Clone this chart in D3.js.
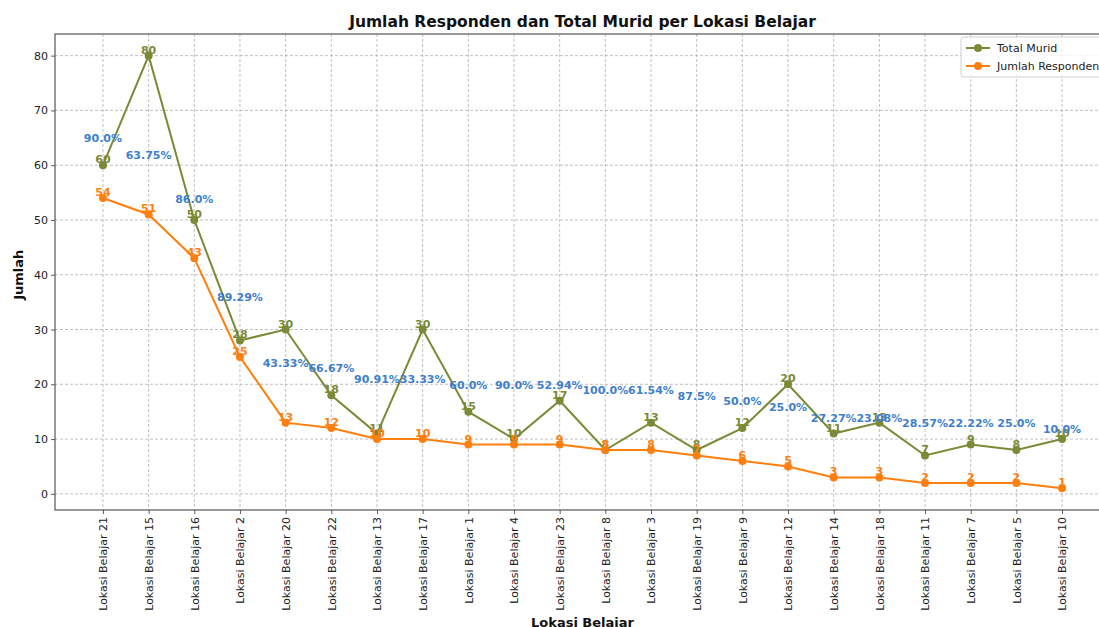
<!DOCTYPE html>
<html>
<head>
<meta charset="utf-8">
<script src="https://cdn.jsdelivr.net/npm/d3@7"></script>
<style>
  body { margin: 0; background: #fff; }
  text { font-family: "DejaVu Sans", sans-serif; }
</style>
</head>
<body>
<div class="graph"></div>
<script>
// data
var lokasi = ["Lokasi Belajar 21", "Lokasi Belajar 15", "Lokasi Belajar 16", "Lokasi Belajar 2",
    "Lokasi Belajar 20", "Lokasi Belajar 22", "Lokasi Belajar 13", "Lokasi Belajar 17",
    "Lokasi Belajar 1", "Lokasi Belajar 4", "Lokasi Belajar 23", "Lokasi Belajar 8",
    "Lokasi Belajar 3", "Lokasi Belajar 19", "Lokasi Belajar 9", "Lokasi Belajar 12",
    "Lokasi Belajar 14", "Lokasi Belajar 18", "Lokasi Belajar 11", "Lokasi Belajar 7",
    "Lokasi Belajar 5", "Lokasi Belajar 10"];
var totalMurid = [60, 80, 50, 28, 30, 18, 11, 30, 15, 10, 17, 8, 13, 8, 12, 20, 11, 13, 7, 9, 8, 10];
var jumlahResponden = [54, 51, 43, 25, 13, 12, 10, 10, 9, 9, 9, 8, 8, 7, 6, 5, 3, 3, 2, 2, 2, 1];
var persen = ["90.0%", "63.75%", "86.0%", "89.29%", "43.33%", "66.67%", "90.91%", "33.33%",
    "60.0%", "90.0%", "52.94%", "100.0%", "61.54%", "87.5%", "50.0%", "25.0%", "27.27%",
    "23.08%", "28.57%", "22.22%", "25.0%", "10.0%"];
var yTicks = [0, 10, 20, 30, 40, 50, 60, 70, 80];

var olive = "#7b8a36", orange = "#ff7f0e", blue = "#3f7fcb";

var margin = {top: 34, right: -11, bottom: 117, left: 55},
    W = 1099, H = 627,
    width = W - margin.left - margin.right,
    height = H - margin.top - margin.bottom;

var svg = d3.select(".graph").append("svg")
    .attr("width", W)
    .attr("height", H)
    .append("g")
    .attr("transform", "translate(" + margin.left + "," + margin.top + ")");

var x = d3.scalePoint().domain(lokasi).range([0, width]).padding(1.05);
var y = d3.scaleLinear().domain([-2.95, 83.95]).range([height, 0]);

// gridlines
svg.append("g")
    .selectAll("line.gx")
    .data(lokasi)
    .enter().append("line")
    .attr("x1", function(d) { return x(d); })
    .attr("x2", function(d) { return x(d); })
    .attr("y1", 0).attr("y2", height)
    .attr("stroke", "#b0b0b0").attr("stroke-width", 0.8)
    .attr("stroke-dasharray", "3,2");
svg.append("g")
    .selectAll("line.gy")
    .data(yTicks)
    .enter().append("line")
    .attr("y1", function(d) { return y(d); })
    .attr("y2", function(d) { return y(d); })
    .attr("x1", 0).attr("x2", width)
    .attr("stroke", "#b0b0b0").attr("stroke-width", 0.8)
    .attr("stroke-dasharray", "3,2");

// axes
var xAxis = svg.append("g")
    .attr("transform", "translate(0," + height + ")")
    .call(d3.axisBottom(x).tickSize(4).tickSizeOuter(0));
xAxis.selectAll("text")
    .attr("transform", "rotate(-90)")
    .attr("text-anchor", "end")
    .attr("x", -7).attr("y", 0).attr("dy", "0.35em")
    .style("font-size", "11px").style("font-family", "DejaVu Sans").attr("fill", "#222");

var yAxis = svg.append("g")
    .call(d3.axisLeft(y).tickValues(yTicks).tickSize(4).tickSizeOuter(0));
yAxis.selectAll("text")
    .attr("x", -7)
    .style("font-size", "11px").style("font-family", "DejaVu Sans").attr("fill", "#222");

[xAxis, yAxis].forEach(function(a) {
    a.select(".domain").remove();
    a.selectAll(".tick line").attr("stroke", "#333").attr("stroke-width", 0.8);
});

// frame
svg.append("rect")
    .attr("x", 0).attr("y", 0).attr("width", width).attr("height", height)
    .attr("fill", "none").attr("stroke", "#555").attr("stroke-width", 1.2);

// lines
var line = d3.line()
    .x(function(d, i) { return x(lokasi[i]); })
    .y(function(d) { return y(d); });

function drawSeries(values, color) {
    svg.append("path")
        .datum(values)
        .attr("d", line)
        .attr("fill", "none")
        .attr("stroke", color)
        .attr("stroke-width", 2);
    svg.append("g").selectAll("circle")
        .data(values)
        .enter().append("circle")
        .attr("cx", function(d, i) { return x(lokasi[i]); })
        .attr("cy", function(d) { return y(d); })
        .attr("r", 4)
        .attr("fill", color);
    svg.append("g").selectAll("text")
        .data(values)
        .enter().append("text")
        .attr("x", function(d, i) { return x(lokasi[i]); })
        .attr("y", function(d) { return y(d) - 2; })
        .attr("text-anchor", "middle")
        .style("font-size", "11px").style("font-weight", "bold")
        .attr("fill", color)
        .text(function(d) { return d; });
}
drawSeries(totalMurid, olive);
drawSeries(jumlahResponden, orange);

// percentage labels
svg.append("g").selectAll("text")
    .data(persen)
    .enter().append("text")
    .attr("x", function(d, i) { return x(lokasi[i]); })
    .attr("y", function(d, i) { return y(jumlahResponden[i] + 10) - 1; })
    .attr("text-anchor", "middle")
    .style("font-size", "11px").style("font-weight", "bold")
    .attr("fill", blue)
    .text(function(d) { return d; });

// legend
var lg = svg.append("g").attr("transform", "translate(" + (961 - margin.left) + "," + (37 - margin.top) + ")");
lg.append("rect")
    .attr("width", 150).attr("height", 40).attr("rx", 3)
    .attr("fill", "#fff").attr("fill-opacity", 0.8)
    .attr("stroke", "#d0d0d0");
[["Total Murid", olive], ["Jumlah Responden", orange]].forEach(function(e, i) {
    var yy = 11 + i * 18;
    lg.append("line").attr("x1", 5).attr("x2", 29).attr("y1", yy).attr("y2", yy)
        .attr("stroke", e[1]).attr("stroke-width", 2);
    lg.append("circle").attr("cx", 17).attr("cy", yy).attr("r", 4).attr("fill", e[1]);
    lg.append("text").attr("x", 36).attr("y", yy).attr("dy", "0.35em")
        .style("font-size", "11px").attr("fill", "#222").text(e[0]);
});

// titles
svg.append("text")
    .attr("text-anchor", "middle")
    .attr("x", width / 2).attr("y", -7)
    .style("font-size", "15.5px").style("font-weight", "bold")
    .attr("fill", "#111")
    .text("Jumlah Responden dan Total Murid per Lokasi Belajar");

svg.append("text")
    .attr("text-anchor", "middle")
    .attr("transform", "translate(-32," + y(40) + ")rotate(-90)")
    .style("font-size", "13px").style("font-weight", "bold")
    .attr("fill", "#111")
    .text("Jumlah");

svg.append("text")
    .attr("text-anchor", "middle")
    .attr("x", width / 2).attr("y", height + 117)
    .style("font-size", "13px").style("font-weight", "bold")
    .attr("fill", "#111")
    .text("Lokasi Belajar");
</script>
</body>
</html>
